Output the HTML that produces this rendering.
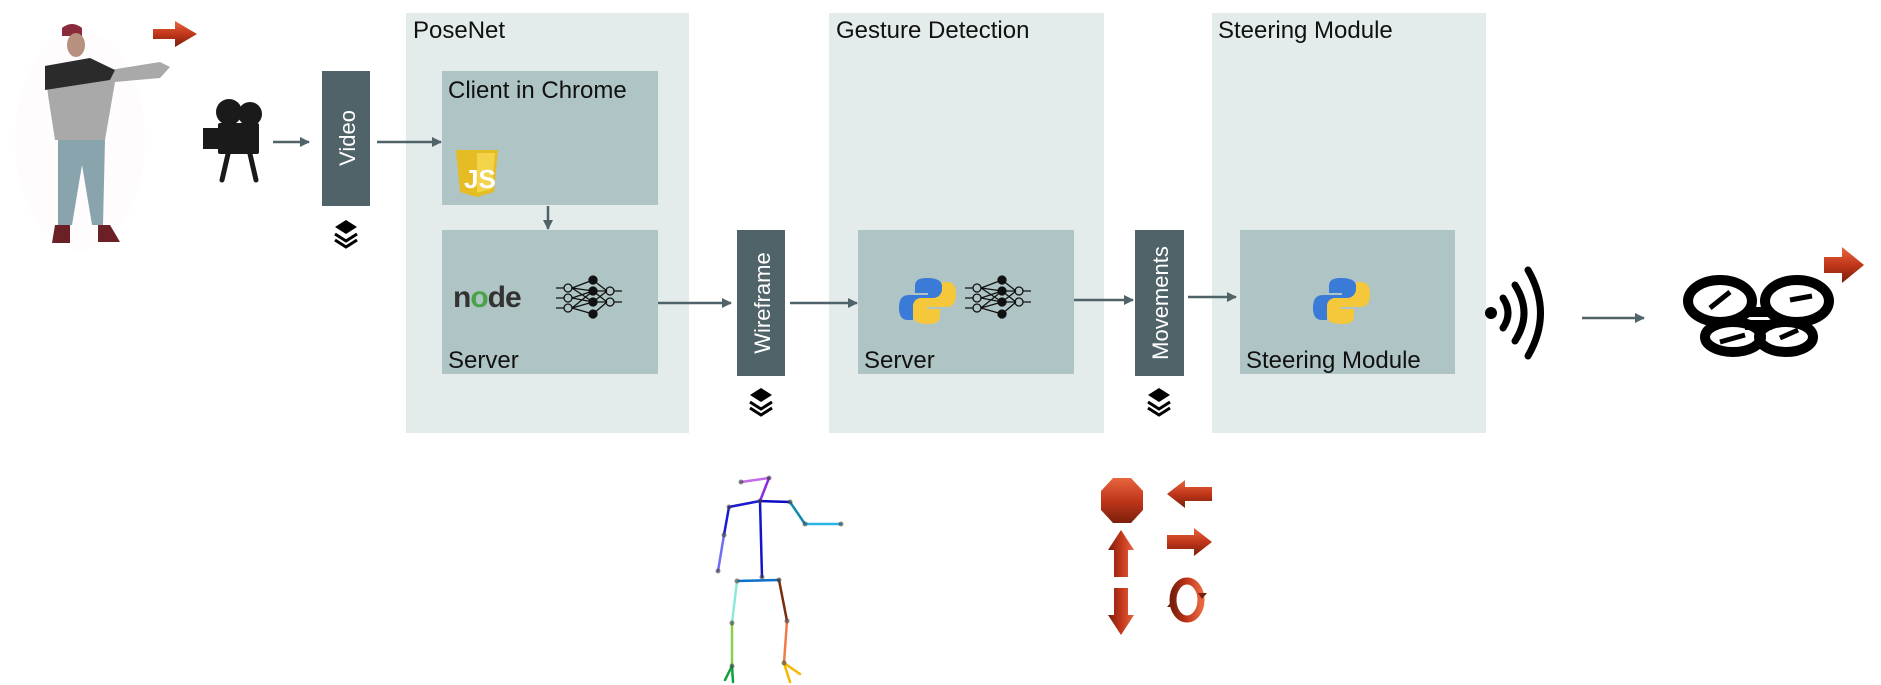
<!DOCTYPE html>
<html><head><meta charset="utf-8"><style>
html,body{margin:0;padding:0;background:#fff;}
svg{display:block;}
text{font-family:"Liberation Sans Narrow","Liberation Sans",sans-serif;}
</style></head><body>
<svg width="1881" height="685" viewBox="0 0 1881 685" xmlns="http://www.w3.org/2000/svg">
<defs>
<marker id="ah" markerWidth="10" markerHeight="10" refX="9" refY="5" orient="auto" markerUnits="userSpaceOnUse"><path d="M0,0 L10,5 L0,10 z" fill="#4f6368"/></marker>
<linearGradient id="rg" x1="0" y1="0" x2="0" y2="1"><stop offset="0" stop-color="#e8653f"/><stop offset="0.5" stop-color="#c1361a"/><stop offset="1" stop-color="#7a1f0c"/></linearGradient>
<linearGradient id="rgh" x1="0" y1="0" x2="1" y2="0"><stop offset="0" stop-color="#7a1f0c"/><stop offset="0.5" stop-color="#c1361a"/><stop offset="1" stop-color="#e8653f"/></linearGradient>
<g id="layers"><path d="M0,-11 L11,-4 L0,3 L-11,-4 z" fill="#000"/><path d="M-11,3 L0,10 L11,3" fill="none" stroke="#000" stroke-width="3"/><path d="M-11,9 L0,16 L11,9" fill="none" stroke="#000" stroke-width="3"/></g>
<g id="nn" stroke="#111" stroke-width="1.3" fill="none">
<path d="M0,8 h8 M0,18 h8 M0,28 h8"/>
<circle cx="12" cy="8" r="4"/><circle cx="12" cy="18" r="4"/><circle cx="12" cy="28" r="4"/>
<path d="M16,8 L37,0 M16,8 L37,11 M16,18 L37,11 M16,18 L37,22 M16,28 L37,22 M16,28 L37,34 M16,8 L37,22 M16,28 L37,11"/>
<circle cx="37" cy="0" r="4" fill="#111"/><circle cx="37" cy="11" r="4" fill="#111"/><circle cx="37" cy="22" r="4" fill="#111"/><circle cx="37" cy="34" r="4" fill="#111"/>
<path d="M37,0 L51,11 M37,11 L51,11 M37,11 L51,22 M37,22 L51,11 M37,22 L51,22 M37,34 L51,22"/>
<circle cx="54" cy="11" r="4"/><circle cx="54" cy="22" r="4"/>
<path d="M58,11 h8 M58,22 h8"/>
</g>
<g id="py"><path d="M0,-20 c-12,0 -12,5 -12,10 v5 h13 v2 h-19 c-8,0 -10,6 -10,13 c0,8 3,12 9,12 h5 v-7 c0,-5 4,-9 9,-9 h12 c5,0 8,-4 8,-8 v-10 c0,-5 -5,-8 -15,-8z" fill="#3b7bd8"/><path d="M1,26 c12,0 12,-5 12,-10 v-5 h-13 v-2 h19 c8,0 10,-6 10,-13 c0,-8 -3,-12 -9,-12 h-5 v7 c0,5 -4,9 -9,9 h-12 c-5,0 -8,4 -8,8 v10 c0,5 5,8 15,8z" fill="#f5c73a"/></g>
</defs>

<rect x="406" y="13" width="283" height="420" fill="#e3ecea"/>
<rect x="829" y="13" width="275" height="420" fill="#e3ecea"/>
<rect x="1212" y="13" width="274" height="420" fill="#e3ecea"/>
<text x="413" y="38" font-size="24" fill="#111">PoseNet</text>
<text x="836" y="38" font-size="24" fill="#111">Gesture Detection</text>
<text x="1218" y="38" font-size="24" fill="#111">Steering Module</text>

<rect x="442" y="71" width="216" height="134" fill="#afc4c4"/>
<text x="448" y="98" font-size="24" fill="#111">Client in Chrome</text>
<path d="M456,150 h42 l-4,42 l-17,5 l-17,-5z" fill="#e5bc23"/><path d="M477,153 h18 l-3,36 l-15,4z" fill="#f3d34a"/>
<text x="464" y="188" font-size="26" font-weight="bold" fill="#fff">JS</text>

<rect x="442" y="230" width="216" height="144" fill="#afc4c4"/>
<text x="448" y="368" font-size="24" fill="#111">Server</text>
<text x="453" y="307" font-size="30" font-weight="bold" fill="#333" letter-spacing="-1">n<tspan fill="#4aa34a">o</tspan>de</text>
<use href="#nn" x="556" y="280"/>

<rect x="858" y="230" width="216" height="144" fill="#afc4c4"/>
<text x="864" y="368" font-size="24" fill="#111">Server</text>
<use href="#py" x="927" y="298"/>
<use href="#nn" x="965" y="280"/>

<rect x="1240" y="230" width="215" height="144" fill="#afc4c4"/>
<text x="1246" y="368" font-size="24" fill="#111">Steering Module</text>
<use href="#py" x="1341" y="298"/>

<rect x="322" y="71" width="48" height="135" fill="#4f6368"/>
<text transform="translate(355,138) rotate(-90)" text-anchor="middle" font-size="22" fill="#fff" font-family="Liberation Sans,sans-serif">Video</text>
<rect x="737" y="230" width="48" height="146" fill="#4f6368"/>
<text transform="translate(770,303) rotate(-90)" text-anchor="middle" font-size="22" fill="#fff" font-family="Liberation Sans,sans-serif">Wireframe</text>
<rect x="1135" y="230" width="49" height="146" fill="#4f6368"/>
<text transform="translate(1168,303) rotate(-90)" text-anchor="middle" font-size="22" fill="#fff" font-family="Liberation Sans,sans-serif">Movements</text>
<use href="#layers" x="346" y="231"/>
<use href="#layers" x="761" y="399"/>
<use href="#layers" x="1159" y="399"/>

<g stroke="#4f6368" stroke-width="2.5" marker-end="url(#ah)" fill="none">
<path d="M273,142 H309"/>
<path d="M377,142 H441"/>
<path d="M548,206 V229"/>
<path d="M658,303 H731"/>
<path d="M790,303 H857"/>
<path d="M1074,300 H1133"/>
<path d="M1188,297 H1236"/>
<path d="M1582,318 H1644"/>
</g>

<g fill="#1a1a1a"><circle cx="229" cy="112" r="13"/><circle cx="250" cy="114" r="12"/><rect x="218" y="123" width="41" height="31" rx="2"/><rect x="203" y="128" width="15" height="21"/>
<path d="M228,154 L222,180 M250,154 L256,180" stroke="#1a1a1a" stroke-width="5" stroke-linecap="round"/></g>

<g>
<ellipse cx="80" cy="140" rx="65" ry="110" fill="#fefcfd"/>
<path d="M62,28 q10,-8 20,0 l0,8 h-20z" fill="#8a2a3a"/>
<ellipse cx="76" cy="45" rx="9" ry="12" fill="#b89080"/>
<path d="M45,66 L90,58 L110,70 L160,62 L170,67 L160,78 L115,82 L105,140 L55,140 L48,95z" fill="#a9a9a9"/>
<path d="M45,66 L90,58 L115,70 L110,80 L45,90z" fill="#2b2b2b"/>
<path d="M58,140 L105,140 L103,225 L92,225 L82,165 L72,225 L58,225z" fill="#8aa4ae"/>
<path d="M55,225 h15 v18 h-18z M98,225 h12 l10,17 h-22z" fill="#6a2024"/>
</g>
<path d="M153,29 h22 v-8 l22,13 l-22,13 v-8 h-22z" fill="url(#rg)"/>

<circle cx="1491" cy="313" r="6" fill="#000"/>
<g fill="none" stroke="#000" stroke-width="7" stroke-linecap="round">
<path d="M1503,298 q10,15 0,30"/><path d="M1515,285 q18,28 0,56"/><path d="M1528,270 q25,43 0,86"/></g>

<g fill="none" stroke="#000">
<ellipse cx="1720" cy="301" rx="32" ry="21" stroke-width="10"/>
<ellipse cx="1797" cy="301" rx="32" ry="21" stroke-width="10"/>
<ellipse cx="1733" cy="337" rx="28" ry="15" stroke-width="10"/>
<ellipse cx="1786" cy="337" rx="27" ry="15" stroke-width="10"/>
<path d="M1745,312 L1772,312 M1745,325 L1772,325" stroke-width="10"/>
<path d="M1710,308 L1730,292 M1790,300 L1812,296 M1720,342 L1745,335 M1780,338 L1798,330" stroke-width="5"/>
</g>
<path d="M1824,257 h18 v-10 l22,18 l-22,18 v-10 h-18z" fill="url(#rg)"/>

<g stroke-width="2.5" fill="none" stroke-linecap="round">
<path d="M741,482 L769,478" stroke="#c36ae8"/>
<path d="M769,478 L760,501" stroke="#8a2be2"/>
<path d="M760,501 L790,502" stroke="#0b0bc6"/>
<path d="M790,502 L805,524" stroke="#1189b0"/>
<path d="M805,524 L841,524" stroke="#2ab7e8"/>
<path d="M760,501 L729,507 L724,535" stroke="#1a1ad0"/>
<path d="M724,535 L718,571" stroke="#6f6ff5"/>
<path d="M760,501 L762,577" stroke="#1515c5"/>
<path d="M737,581 L779,580" stroke="#0a70c8"/>
<path d="M737,581 L732,623" stroke="#8ee8d6"/>
<path d="M732,623 L732,666" stroke="#8ccf48"/>
<path d="M732,666 L725,680 M732,666 L733,682" stroke="#10a040"/>
<path d="M779,580 L787,621" stroke="#7a2e0c"/>
<path d="M787,621 L784,663" stroke="#f07a4a"/>
<path d="M784,663 L790,682 M784,663 L800,674" stroke="#f5b800"/>
</g>
<g fill="#444" opacity="0.6"><circle cx="741" cy="482" r="2.5"/><circle cx="769" cy="478" r="2.5"/><circle cx="760" cy="501" r="2.5"/><circle cx="790" cy="502" r="2.5"/><circle cx="805" cy="524" r="2.5"/><circle cx="841" cy="524" r="2.5"/><circle cx="729" cy="507" r="2.5"/><circle cx="724" cy="535" r="2.5"/><circle cx="718" cy="571" r="2.5"/><circle cx="762" cy="577" r="2.5"/><circle cx="737" cy="581" r="2.5"/><circle cx="779" cy="580" r="2.5"/><circle cx="732" cy="623" r="2.5"/><circle cx="787" cy="621" r="2.5"/><circle cx="732" cy="666" r="2.5"/><circle cx="784" cy="663" r="2.5"/></g>

<path d="M1113,478 h18 l12,13 v19 l-12,13 h-18 l-12,-13 v-19z" fill="url(#rg)"/>
<path d="M1212,487 h-27 v-7 l-18,14 l18,14 v-7 h27z" fill="url(#rg)"/>
<path d="M1167,535 h27 v-7 l18,14 l-18,14 v-7 h-27z" fill="url(#rg)"/>
<path d="M1114,577 v-27 h-6 l13,-20 l13,20 h-6 v27z" fill="url(#rgh)"/>
<path d="M1114,588 v27 h-6 l13,20 l13,-20 h-6 v-27z" fill="url(#rgh)"/>
<g fill="none" stroke="url(#rgh)" stroke-width="7"><ellipse cx="1187" cy="600" rx="14" ry="19"/></g>
<path d="M1198,593 l9,0 l-5,6z M1176,607 l-9,0 l5,-6z" fill="#7a1f0c"/>
</svg>
</body></html>
